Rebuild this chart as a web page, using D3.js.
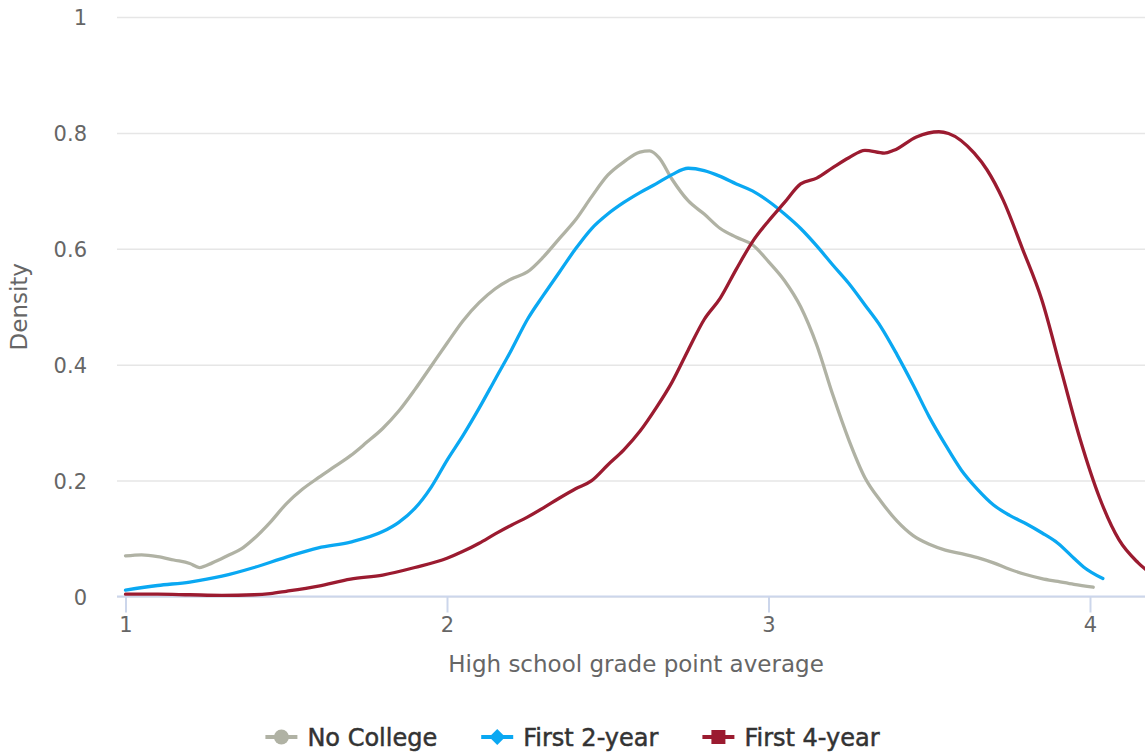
<!DOCTYPE html>
<html><head><meta charset="utf-8">
<script src="https://cdn.jsdelivr.net/npm/d3@7"></script>
<style>
html,body{margin:0;padding:0;background:#fff;overflow:hidden}
svg{display:block;font-family:"DejaVu Sans",sans-serif}
</style></head>
<body><svg id="chart" width="1145" height="753"></svg>
<script>
const seriesNames = ["No College", "First 2-year", "First 4-year"];
const seriesColors = ["#b0b2a4", "#0aa8f2", "#9b1b30"];
const xTicks = [1, 2, 3, 4];
const yTicks = [0, 0.2, 0.4, 0.6, 0.8, 1];
const xTitle = "High school grade point average";
const yTitle = "Density";

const noCollegeGpa = [1.00,1.05,1.10,1.15,1.20,1.23,1.27,1.32,1.36,1.40,1.45,1.50,1.55,1.60,1.65,1.70,1.75,1.80,1.85,1.90,1.95,2.00,2.05,2.10,2.15,2.20,2.25,2.30,2.35,2.40,2.45,2.50,2.55,2.60,2.63,2.66,2.70,2.75,2.80,2.85,2.90,2.95,3.00,3.05,3.10,3.15,3.20,3.25,3.30,3.35,3.40,3.45,3.50,3.55,3.60,3.65,3.70,3.75,3.80,3.85,3.90,3.95,4.01];
const noCollegeDensity = [0.070,0.072,0.069,0.063,0.057,0.050,0.058,0.071,0.082,0.100,0.128,0.160,0.185,0.205,0.224,0.243,0.266,0.290,0.320,0.357,0.397,0.437,0.476,0.507,0.531,0.548,0.560,0.586,0.618,0.650,0.690,0.727,0.750,0.767,0.769,0.757,0.720,0.683,0.660,0.635,0.620,0.607,0.578,0.545,0.500,0.434,0.348,0.270,0.205,0.164,0.130,0.105,0.090,0.080,0.074,0.067,0.058,0.047,0.038,0.031,0.026,0.021,0.016];

const twoYearGpa = [1.00,1.10,1.20,1.30,1.40,1.50,1.60,1.70,1.80,1.85,1.90,1.95,2.00,2.05,2.10,2.15,2.20,2.25,2.30,2.35,2.40,2.45,2.50,2.55,2.60,2.65,2.70,2.75,2.80,2.85,2.90,2.95,3.00,3.05,3.10,3.15,3.20,3.25,3.30,3.35,3.40,3.45,3.50,3.55,3.60,3.65,3.70,3.75,3.80,3.85,3.90,3.95,3.98,4.04];
const twoYearDensity = [0.011,0.019,0.025,0.035,0.050,0.068,0.084,0.094,0.112,0.128,0.152,0.188,0.235,0.278,0.325,0.375,0.425,0.478,0.520,0.560,0.600,0.635,0.660,0.680,0.697,0.712,0.728,0.739,0.735,0.725,0.712,0.700,0.682,0.660,0.635,0.605,0.572,0.540,0.503,0.465,0.417,0.365,0.310,0.262,0.218,0.185,0.158,0.140,0.126,0.110,0.092,0.066,0.051,0.031];

const fourYearGpa = [1.00,1.10,1.20,1.30,1.40,1.45,1.50,1.60,1.70,1.80,1.90,2.00,2.05,2.10,2.15,2.20,2.25,2.30,2.35,2.40,2.45,2.50,2.55,2.60,2.65,2.70,2.75,2.80,2.85,2.90,2.95,3.00,3.05,3.10,3.15,3.20,3.25,3.30,3.36,3.39,3.46,3.53,3.56,3.64,3.68,3.73,3.79,3.85,3.91,3.97,4.03,4.09,4.15,4.22];
const fourYearDensity = [0.004,0.004,0.003,0.002,0.003,0.005,0.009,0.018,0.030,0.037,0.050,0.066,0.078,0.092,0.108,0.123,0.137,0.153,0.170,0.186,0.200,0.227,0.253,0.285,0.325,0.370,0.425,0.478,0.515,0.565,0.612,0.648,0.680,0.712,0.722,0.740,0.757,0.770,0.765,0.770,0.793,0.802,0.799,0.765,0.736,0.684,0.600,0.512,0.391,0.270,0.170,0.098,0.058,0.028];

const seriesGpa = [noCollegeGpa, twoYearGpa, fourYearGpa];
const seriesDensity = [noCollegeDensity, twoYearDensity, fourYearDensity];

const svg = d3.select("#chart");
const plotLeft = 117, plotRight = 1155, plotTop = 17, plotBottom = 596.5;

const x = d3.scaleLinear().domain([1, 4]).range([125.5, 1090]);
const y = d3.scaleLinear().domain([0, 1]).range([plotBottom, plotTop]);

// gridlines + y labels
const yAxis = svg.append("g").attr("transform", `translate(${plotLeft},0)`)
  .call(d3.axisLeft(y).tickValues(yTicks).tickSize(-(plotRight - plotLeft)).tickPadding(30)
    .tickFormat(d => d3.format("~g")(d)));
yAxis.select(".domain").remove();
yAxis.selectAll(".tick line").attr("stroke", "#e6e6e6").attr("stroke-width", 1.5);
yAxis.selectAll(".tick text").attr("fill", "#666").style("font-size", "21px").attr("dy", "0.36em").attr("font-family", "DejaVu Sans");

// x axis
const xAxis = svg.append("g").attr("transform", `translate(0,${plotBottom})`)
  .call(d3.axisBottom(x).tickValues(xTicks).tickSize(16).tickSizeOuter(0).tickPadding(5).tickFormat(d3.format("d")));
xAxis.select(".domain").attr("d", `M${plotLeft},0H${plotRight}`).attr("stroke", "#ccd6eb").attr("stroke-width", 2);
xAxis.selectAll(".tick line").attr("stroke", "#ccd6eb").attr("stroke-width", 2);
xAxis.selectAll(".tick text").attr("fill", "#666").style("font-size", "21px").attr("font-family", "DejaVu Sans");

// titles
svg.append("text").attr("x", (plotLeft + plotRight) / 2).attr("y", 672).attr("text-anchor", "middle")
  .attr("fill", "#666").style("font-size", "23px").text(xTitle);
svg.append("text").attr("transform", `translate(27,${(plotTop + plotBottom) / 2}) rotate(-90)`)
  .attr("text-anchor", "middle").attr("fill", "#666").style("font-size", "23px").text(yTitle);

// clip
svg.append("clipPath").attr("id", "plotclip").append("rect")
  .attr("x", plotLeft).attr("y", 0).attr("width", plotRight - plotLeft).attr("height", plotBottom + 10);

const line = d3.line().x(d => x(d[0])).y(d => y(d[1])).curve(d3.curveMonotoneX);
const lines = svg.append("g").attr("clip-path", "url(#plotclip)");
seriesNames.forEach((name, i) => {
  const pts = seriesGpa[i].map((g, j) => [g, seriesDensity[i][j]]);
  lines.append("path").datum(pts).attr("d", line).attr("fill", "none")
    .attr("stroke", seriesColors[i]).attr("stroke-width", 3.3)
    .attr("stroke-linejoin", "round").attr("stroke-linecap", "round");
});

// legend
const legendY = 737;
const legend = svg.append("g");
const items = [];
seriesNames.forEach((name, i) => {
  const g = legend.append("g");
  g.append("line").attr("x1", 0).attr("x2", 32).attr("y1", 0).attr("y2", 0)
    .attr("stroke", seriesColors[i]).attr("stroke-width", 4);
  if (i === 0) g.append("circle").attr("cx", 16).attr("cy", 0).attr("r", 7.5).attr("fill", seriesColors[i]);
  if (i === 1) g.append("path").attr("d", "M16,-8L24,0L16,8L8,0Z").attr("fill", seriesColors[i]);
  if (i === 2) g.append("rect").attr("x", 9).attr("y", -7).attr("width", 14).attr("height", 14).attr("fill", seriesColors[i]);
  const t = g.append("text").attr("x", 42).attr("y", 0).attr("dy", "0.36em")
    .attr("fill", "#333").attr("stroke", "#333").attr("stroke-width", 0.5)
    .style("font-size", "24px").text(name);
  const w = 42 + t.node().getComputedTextLength();
  items.push({g, w});
});
const gap = 44;
const total = d3.sum(items, d => d.w) + gap * (items.length - 1);
let start = 1145 / 2 - total / 2;
items.forEach(it => {
  it.g.attr("transform", `translate(${start},${legendY})`);
  start += it.w + gap;
});
</script>
</body></html>
